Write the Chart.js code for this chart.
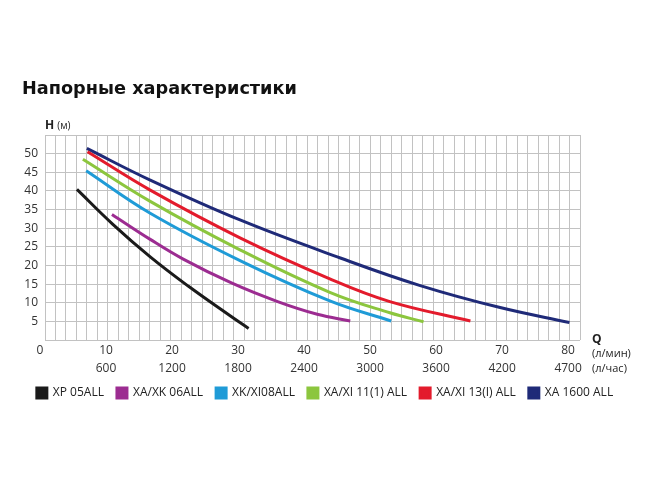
<!DOCTYPE html>
<html>
<head>
<meta charset="utf-8">
<script src="https://cdn.jsdelivr.net/npm/chart.js@4/dist/chart.umd.min.js"></script>
<style>
  html, body { margin: 0; padding: 0; background: #fff; }
  canvas { display: block; }
</style>
</head>
<body>
<canvas id="chart" width="650" height="486"></canvas>
<script>
// подписи осей
const qTicks = [0, 10, 20, 30, 40, 50, 60, 70, 80];          // л/мин
const qHourTicks = ["", "600", "1200", "1800", "2400", "3000", "3600", "4200", "4700"]; // л/час
const hTicks = [5, 10, 15, 20, 25, 30, 35, 40, 45, 50];

// кривые (Q л/мин, H м)
const qXP05 = [5.6, 11.0, 16.7, 22.5, 28.8, 31.6];
const hXP05 = [40.4, 31.1, 22.3, 14.4, 6.5, 3.1];

const qXA06 = [10.9, 16.7, 21.7, 29.0, 36.0, 42.0, 47.0];
const hXA06 = [33.7, 27.0, 21.7, 15.3, 10.3, 6.9, 5.1];

const qXK08 = [7.0, 16.7, 30.3, 43.9, 53.2];
const hXK08 = [45.4, 34.0, 21.3, 10.5, 5.1];

const qXA11 = [6.5, 16.7, 30.3, 43.9, 53.0, 58.1];
const hXA11 = [48.5, 37.2, 24.2, 12.8, 7.3, 4.9];

const qXA13 = [7.2, 16.7, 30.3, 43.9, 53.0, 65.2];
const hXA13 = [50.5, 40.2, 27.4, 16.4, 10.3, 5.1];

const qXA1600 = [7.1, 16.7, 30.3, 45.5, 57.6, 69.7, 80.2];
const hXA1600 = [51.4, 42.9, 32.2, 22.0, 14.6, 8.7, 4.7];

const series = [
  { label: "XP 05ALL", q: qXP05, h: hXP05, color: "#1a1a1a" },
  { label: "XA/XK 06ALL", q: qXA06, h: hXA06, color: "#9c2c91" },
  { label: "XK/XI08ALL", q: qXK08, h: hXK08, color: "#1f9bd7" },
  { label: "XA/XI 11(1) ALL", q: qXA11, h: hXA11, color: "#8cc63e" },
  { label: "XA/XI 13(I) ALL", q: qXA13, h: hXA13, color: "#e31b2c" },
  { label: "XA 1600 ALL", q: qXA1600, h: hXA1600, color: "#1f2a78" },
];

const tickFont = { family: "'Open Sans', sans-serif", size: 12 };
const gridColor = "#c2c2c2";

// заголовок и подписи H / Q
const axisLabels = {
  id: "axisLabels",
  afterDraw(chart) {
    const { ctx, chartArea } = chart;
    ctx.save();
    ctx.textBaseline = "middle";
    ctx.textAlign = "left";
    ctx.fillStyle = "#111";
    ctx.font = "bold 17.7px 'DejaVu Sans', sans-serif";
    ctx.fillText("Напорные характеристики", 22, 89);

    ctx.fillStyle = "#222";
    ctx.font = "bold 12px 'Open Sans', sans-serif";
    ctx.fillText("H", chartArea.left, chartArea.top - 9);
    const wH = ctx.measureText("H ").width;
    ctx.font = "10px 'Open Sans', sans-serif";
    ctx.fillText("(м)", chartArea.left + wH, chartArea.top - 9);

    const qx = chartArea.right + 12;
    ctx.font = "bold 12px 'Open Sans', sans-serif";
    ctx.fillText("Q", qx, chartArea.bottom);
    ctx.font = "11px 'Open Sans', sans-serif";
    ctx.fillText("(л/мин)", qx, chartArea.bottom + 14);
    ctx.fillText("(л/час)", qx, chartArea.bottom + 29);
    ctx.restore();
  },
};

new Chart(document.getElementById("chart"), {
  type: "line",
  data: {
    datasets: series.map((s) => ({
      label: s.label,
      data: s.q.map((q, i) => ({ x: q, y: s.h[i] })),
      borderColor: s.color,
      backgroundColor: s.color,
      borderWidth: 3,
      pointRadius: 0,
      tension: 0.4,
      fill: false,
    })),
  },
  options: {
    responsive: false,
    animation: false,
    layout: { padding: { top: 135, left: 0, right: 0, bottom: 77 } },
    scales: {
      x: {
        type: "linear",
        min: 0.76,
        max: 81.8,
        grid: { display: false, drawTicks: false },
        border: { display: false },
        afterBuildTicks: (s) => { s.ticks = qTicks.map((v) => ({ value: v })); },
        afterFit: (s) => { s.height = 34; },
        ticks: {
          autoSkip: false,
          maxRotation: 0,
          padding: 2,
          font: { ...tickFont, lineHeight: 1.45 },
          color: "#333",
          callback: (v) => {
            const i = qTicks.indexOf(v);
            return i < 0 ? "" : [String(v), qHourTicks[i]];
          },
        },
      },
      // только для вертикальной сетки
      xg: {
        type: "linear",
        position: "top",
        min: 0,
        max: 51,
        ticks: { display: false, stepSize: 1, maxTicksLimit: 100 },
        grid: { color: gridColor, drawTicks: false },
        border: { display: false },
        afterFit: (s) => { s.height = 0; },
      },
      y: {
        min: 0,
        max: 55,
        afterFit: (s) => { s.width = 45; },
        grid: { color: gridColor, drawTicks: false },
        border: { color: gridColor },
        ticks: {
          stepSize: 2.5,
          maxTicksLimit: 100,
          padding: 7,
          font: tickFont,
          color: "#333",
          callback: (v) => (hTicks.includes(v) ? String(v) : ""),
        },
      },
      // пустое место справа под подписи Q
      yr: {
        position: "right",
        min: 0,
        max: 1,
        grid: { display: false },
        border: { display: false },
        ticks: { display: false },
        afterFit: (s) => { s.width = 70; },
      },
    },
    plugins: {
      legend: {
        position: "bottom",
        labels: {
          boxWidth: 10,
          boxHeight: 10,
          padding: 13,
          color: "#222",
          font: tickFont,
        },
      },
      tooltip: { enabled: false },
    },
  },
  plugins: [axisLabels],
});
</script>
</body>
</html>
